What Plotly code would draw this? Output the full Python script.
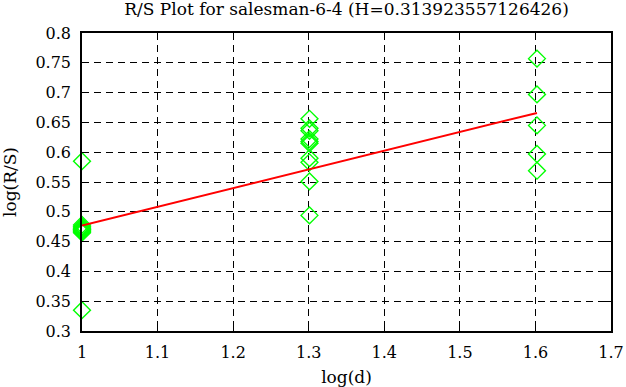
import plotly.graph_objects as go

# data
x_vals = [1.0] * 10 + [1.30103] * 10 + [1.60206] * 5
y_vals = [0.585, 0.478, 0.475, 0.473, 0.471, 0.469, 0.467, 0.465, 0.470, 0.335,
          0.656, 0.640, 0.636, 0.622, 0.618, 0.615, 0.590, 0.583, 0.551, 0.494,
          0.757, 0.697, 0.645, 0.597, 0.569]
H = 0.313923557126426
intercept = 0.163
fit_x = [1.0, 1.60206]
fit_y = [intercept + H * v for v in fit_x]

x_ticks = [1, 1.1, 1.2, 1.3, 1.4, 1.5, 1.6, 1.7]
x_labels = ["1", "1.1", "1.2", "1.3", "1.4", "1.5", "1.6", "1.7"]
y_ticks = [0.3, 0.35, 0.4, 0.45, 0.5, 0.55, 0.6, 0.65, 0.7, 0.75, 0.8]
y_labels = ["0.3", "0.35", "0.4", "0.45", "0.5", "0.55", "0.6", "0.65", "0.7", "0.75", "0.8"]

title_text = "R/S Plot for salesman-6-4 (H=0.313923557126426)"
ff = "DejaVu Serif"

fig = go.Figure()
fig.add_trace(go.Scatter(x=x_vals, y=y_vals, mode="markers",
                         marker=dict(symbol="diamond-open", size=13, color="#00ff00",
                                     line=dict(width=1.4, color="#00ff00")),
                         showlegend=False, cliponaxis=False))
fig.add_trace(go.Scatter(x=fit_x, y=fit_y, mode="lines",
                         line=dict(color="#ff0000", width=2), showlegend=False))

axis_common = dict(showline=True, linecolor="black", linewidth=1.6, mirror="ticks",
                   ticks="inside", ticklen=6, tickcolor="black", tickwidth=1.2,
                   showgrid=True, gridcolor="black", griddash="7px,5px", gridwidth=1,
                   zeroline=False, automargin=False,
                   tickfont=dict(size=16, color="black", family=ff))
fig.update_xaxes(range=[1, 1.7], tickvals=x_ticks, ticktext=x_labels, ticklabelstandoff=6,
                 title=dict(text="log(d)", font=dict(size=17, family=ff, color="black"), standoff=10),
                 **axis_common)
fig.update_yaxes(range=[0.3, 0.8], tickvals=y_ticks, ticktext=y_labels, ticklabelstandoff=6,
                 title=dict(text="log(R/S)", font=dict(size=17, family=ff, color="black"), standoff=16),
                 **axis_common)
fig.update_layout(width=626, height=387,
                  margin=dict(l=82, r=15, t=33, b=56, autoexpand=False),
                  paper_bgcolor="white", plot_bgcolor="white",
                  title=dict(text=title_text, x=0.5, xref="paper", xanchor="center",
                             y=0.992, yanchor="top",
                             font=dict(size=17, family=ff, color="black")))
fig.write_html("out.html", config={"displayModeBar": False},
               post_script="document.body.style.margin='0';document.body.style.overflow='hidden';")
